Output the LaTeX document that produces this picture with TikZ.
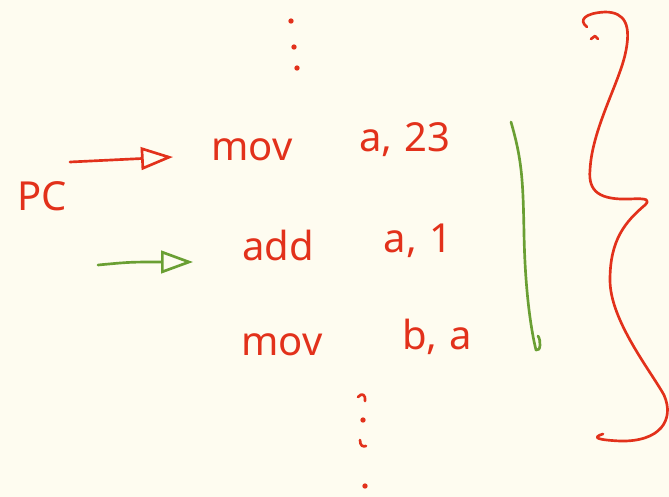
\documentclass[tikz,border=0pt]{standalone}
\usepackage{fontspec}
\setmainfont{Noto Sans}
\usetikzlibrary{arrows.meta}
\definecolor{paper}{HTML}{FEFCF0}
\definecolor{ink}{HTML}{E2311B}
\definecolor{leaf}{HTML}{6A9F33}
\tikzset{
  instr/.style={text=ink, font=\fontsize{30}{34}\selectfont, inner sep=0pt, anchor=center},
  pen/.style={line width=2pt, line cap=round, line join=round},
  redpen/.style={pen, draw=ink},
  greenpen/.style={pen, draw=leaf},
  openhead/.style={-{Triangle[open, length=24pt, width=17pt, line width=2pt]}},
  dot/.style={circle, fill=ink, inner sep=0pt, minimum size=4pt}
}
\begin{document}
\begin{tikzpicture}[x=0.75pt, y=-0.75pt]
  \fill[paper] (0,0) rectangle (669,497);
  \useasboundingbox (0,0) rectangle (669,497);

  % instruction listing
  \node[instr] (mova) at (252,150) {mov};
  \node[instr] (opsa) at (405,140) {a,\hspace{0.3em}23};
  \node[instr] (addb) at (278,245) {add};
  \node[instr] (opsb) at (418,241) {a,\hspace{0.3em}1};
  \node[instr] (movc) at (282,345) {mov};
  \node[instr] (opsc) at (437,337) {b,\hspace{0.3em}a};

  % program counter label
  \node[instr] (pc) at (42,196) {PC};

  % current and next instruction pointers
  \coordinate (redtail) at (70,162);
  \coordinate (redtip) at (173,157);
  \coordinate (greentail) at (98,265);
  \coordinate (greentip) at (193,262);
  \draw[redpen, openhead] (redtail) -- (redtip);
  \draw[greenpen, openhead] (greentail) .. controls (130,262) .. (greentip);

  % ellipsis above the listing
  \node[dot] (t1) at (291,21) {};
  \node[dot] (t2) at (294,47) {};
  \node[dot] (t3) at (297,68) {};

  % ellipsis below the listing
  \draw[redpen] (358,397) .. controls (362,392) and (366,395) .. (365,401);
  \node[dot] (b2) at (363,420) {};
  \draw[redpen] (360,440) .. controls (360,446) and (363,447) .. (366,446);
  \node[dot] (b4) at (365,486) {};

  % green bar next to the executed block
  \draw[greenpen] (511,122) .. controls (522,160) and (523,180) .. (524,233)
    .. controls (525,290) and (531,330) .. (536,350)
    .. controls (541,352) and (541,340) .. (538,336);

  % large curly brace on the right
  \draw[redpen] (587,27) .. controls (578,20) and (585,13) .. (605,12)
    .. controls (625,12) and (632,25) .. (625,55)
    .. controls (618,85) and (592,130) .. (590,170)
    .. controls (588,192) and (600,200) .. (630,199)
    .. controls (648,198) and (650,200) .. (645,205)
    .. controls (625,222) and (610,240) .. (610,280)
    .. controls (610,320) and (650,370) .. (664,395)
    .. controls (675,420) and (660,442) .. (620,441)
    .. controls (600,440) and (590,438) .. (603,434);
  \draw[redpen] (591,39) -- (595,36) -- (598,39);
\end{tikzpicture}
\end{document}
